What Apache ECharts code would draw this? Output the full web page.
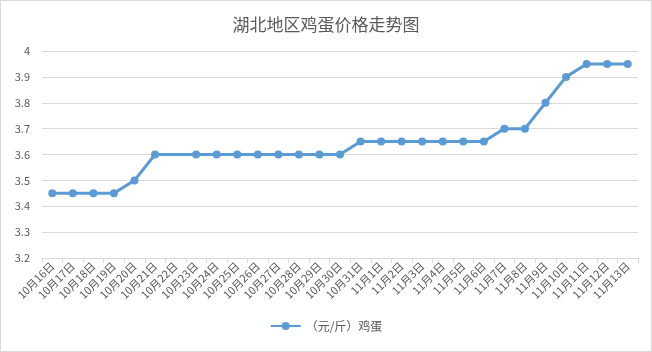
<!DOCTYPE html>
<html>
<head>
<meta charset="utf-8">
<script src="https://cdn.jsdelivr.net/npm/echarts@6/dist/echarts.min.js"></script>
<style>
  html, body { margin: 0; padding: 0; background: #fff; }
  #main { width: 650px; height: 350px; border: 1px solid #d9d9d9; }
</style>
</head>
<body>
<div id="main"></div>
<script>
// 日期
var dates = ['10月16日', '10月17日', '10月18日', '10月19日', '10月20日', '10月21日', '10月22日',
  '10月23日', '10月24日', '10月25日', '10月26日', '10月27日', '10月28日', '10月29日', '10月30日',
  '10月31日', '11月1日', '11月2日', '11月3日', '11月4日', '11月5日', '11月6日', '11月7日',
  '11月8日', '11月9日', '11月10日', '11月11日', '11月12日', '11月13日'];
// 价格 (元/斤)，10月22日无数据
var prices = [3.45, 3.45, 3.45, 3.45, 3.5, 3.6, null, 3.6, 3.6, 3.6, 3.6, 3.6, 3.6, 3.6, 3.6,
  3.65, 3.65, 3.65, 3.65, 3.65, 3.65, 3.65, 3.7, 3.7, 3.8, 3.9, 3.95, 3.95, 3.95];

var chart = echarts.init(document.getElementById('main'));
var font = '"Microsoft YaHei", "Noto Sans CJK SC", sans-serif';

var option = {
  backgroundColor: '#fff',
  animation: false,
  textStyle: { fontFamily: font },
  title: {
    text: '湖北地区鸡蛋价格走势图',
    left: 'center',
    top: 10,
    textStyle: { color: '#595959', fontSize: 17, fontWeight: 'normal', fontFamily: font }
  },
  legend: {
    bottom: 14,
    left: 'center',
    itemWidth: 30,
    itemHeight: 10,
    textStyle: { color: '#595959', fontSize: 12, fontFamily: font },
    data: ['（元/斤）鸡蛋']
  },
  grid: {
    left: 41,
    right: 13,
    top: 50,
    bottom: 93
  },
  xAxis: {
    type: 'category',
    data: dates,
    boundaryGap: true,
    axisLine: { lineStyle: { color: '#d9d9d9' } },
    axisTick: { show: true, length: 5, lineStyle: { color: '#d9d9d9' } },
    axisLabel: {
      interval: 0,
      rotate: 45,
      color: '#595959',
      fontSize: 11,
      margin: 6,
      fontFamily: font
    }
  },
  yAxis: {
    type: 'value',
    min: 3.2,
    max: 4,
    interval: 0.1,
    axisLine: { show: false },
    axisTick: { show: false },
    splitLine: { lineStyle: { color: '#d9d9d9' } },
    axisLabel: {
      color: '#595959',
      fontSize: 11,
      margin: 12,
      fontFamily: font,
      formatter: function (v) { return String(Math.round(v * 10) / 10); }
    }
  },
  series: [{
    name: '（元/斤）鸡蛋',
    type: 'line',
    data: prices,
    connectNulls: true,
    symbol: 'circle',
    symbolSize: 8,
    showAllSymbol: true,
    lineStyle: { color: '#5b9bd5', width: 3 },
    itemStyle: { color: '#5b9bd5' }
  }]
};

chart.setOption(option);
</script>
</body>
</html>
